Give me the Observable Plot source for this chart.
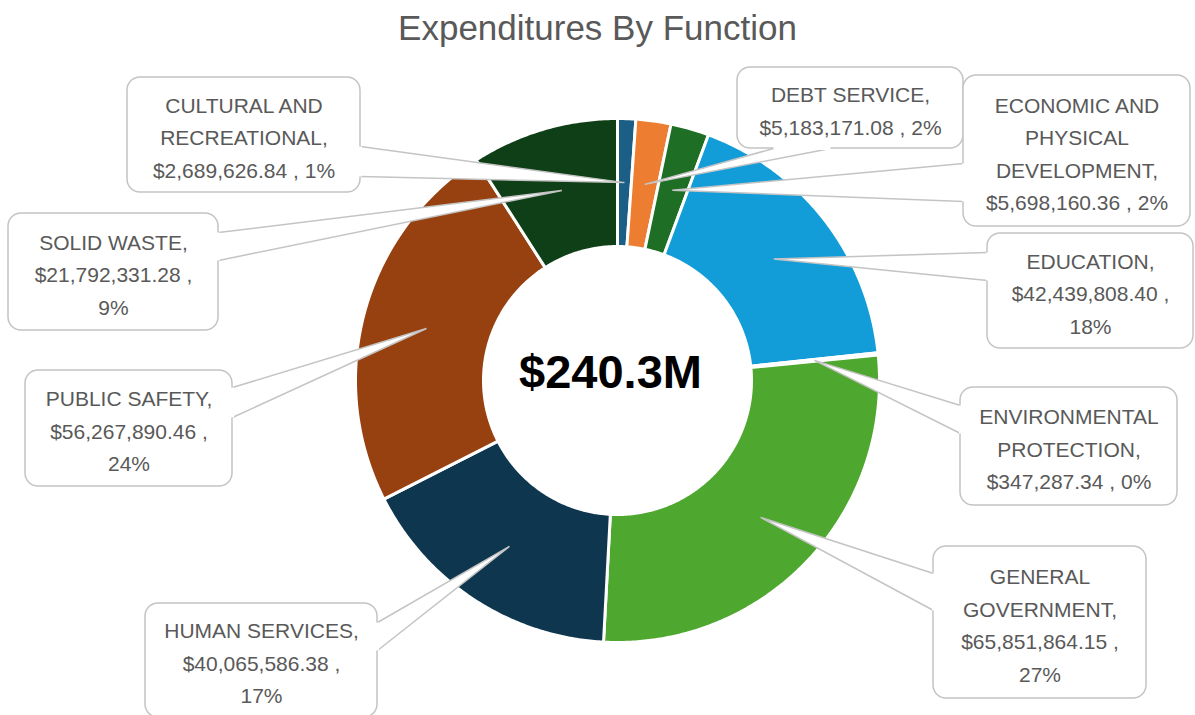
<!DOCTYPE html>
<html><head><meta charset="utf-8">
<script src="https://cdn.jsdelivr.net/npm/d3@7"></script>
<script src="https://cdn.jsdelivr.net/npm/@observablehq/plot@0.6"></script>
<style>
html,body{margin:0;padding:0;background:#fff;overflow:hidden;}
#title{height:56px;line-height:56px;text-align:center;font-family:"Liberation Sans",Arial,sans-serif;font-size:35px;color:#595959;white-space:nowrap;}
#chart svg{display:block;}
</style></head><body>
<div id="title">Expenditures By Function</div>
<div id="chart"></div>
<script>
// ---- data ----
const categories = [
  "CULTURAL AND RECREATIONAL",
  "DEBT SERVICE",
  "ECONOMIC AND PHYSICAL DEVELOPMENT",
  "EDUCATION",
  "ENVIRONMENTAL PROTECTION",
  "GENERAL GOVERNMENT",
  "HUMAN SERVICES",
  "PUBLIC SAFETY",
  "SOLID WASTE"
];
const amounts = [
  2689626.84,
  5183171.08,
  5698160.36,
  42439808.40,
  347287.34,
  65851864.15,
  40065586.38,
  56267890.46,
  21792331.28
];
const colors = ["#1b5e86", "#ed7d31", "#1e6e25", "#139dd8", "#9a9a9a", "#4ea72e", "#0e374f", "#974111", "#0f3f17"];

// ---- layout (page pixel coordinates) ----
const pie = {cx: 617, cy: 380, outer: 262, inner: 134};
const callouts = [
  {box: [127, 77, 360, 192], side: "right", base: [146, 176], lines: [2, 1], split: false},
  {box: [737, 67, 963, 148], side: "bottom", base: [773, 830], lines: [2], split: false},
  {box: [963, 75, 1190, 226], side: "left", base: [163, 201], lines: [2, 1, 1], split: false},
  {box: [987, 233, 1193, 348], side: "left", base: [252, 280], lines: [1], split: true},
  {box: [960, 387, 1177, 505], side: "left", base: [405, 433], lines: [1, 1], split: false},
  {box: [933, 546, 1146, 698], side: "left", base: [573, 610], lines: [1, 1], split: true},
  {box: [145, 603, 377, 717], side: "right", base: [622, 650], lines: [2], split: true},
  {box: [25, 370, 232, 486], side: "right", base: [387, 417], lines: [2], split: true},
  {box: [8, 213, 218, 330], side: "right", base: [232, 260], lines: [2], split: true}
];
const labelColor = "#595959";
const borderColor = "#c4c4c4";
const font = "'Liberation Sans', Arial, sans-serif";

// ---- derived ----
const total = d3.sum(amounts);
// percentages rounded with largest remainder so they sum to 100 (as the spreadsheet does)
function roundedPercents(vals) {
  const raw = vals.map(v => v / d3.sum(vals) * 100);
  const fl = raw.map(Math.floor);
  let left = 100 - d3.sum(fl);
  const order = d3.range(raw.length).sort((a, b) => (raw[b] - fl[b]) - (raw[a] - fl[a]));
  for (let i = 0; i < left; i++) fl[order[i]] += 1;
  return fl;
}
const pcts = roundedPercents(amounts);
const money = d3.format("$,.2f");

const arcs = d3.pie().sort(null).value(d => d)(amounts);
const pt = (a, r) => ({x: pie.cx + r * Math.sin(a), y: pie.cy - r * Math.cos(a)});

const slicePts = [];
arcs.forEach((a, i) => {
  const n = Math.max(2, Math.ceil((a.endAngle - a.startAngle) / (Math.PI / 360)));
  for (let k = 0; k <= n; k++) {
    const t = a.startAngle + (a.endAngle - a.startAngle) * k / n;
    slicePts.push({name: categories[i], ...pt(t, pie.outer)});
  }
  for (let k = n; k >= 0; k--) {
    const t = a.startAngle + (a.endAngle - a.startAngle) * k / n;
    slicePts.push({name: categories[i], ...pt(t, pie.inner)});
  }
});

function labelText(i) {
  const words = categories[i].split(" ");
  const out = [];
  let w = 0;
  callouts[i].lines.forEach(c => { out.push(words.slice(w, w + c).join(" ")); w += c; });
  out[out.length - 1] += ",";
  out.push(money(amounts[i]) + " ," + (callouts[i].split ? "\n" : " ") + pcts[i] + "%");
  return out.join("\n");
}

const wedgePts = [];
const patches = [];
const boxes = [];
callouts.forEach((c, i) => {
  const a = arcs[i];
  const mid = (a.startAngle + a.endAngle) / 2;
  const tip = pt(mid, (pie.outer + pie.inner) / 2);
  const [x1, y1, x2, y2] = c.box;
  let b0, b1;
  if (c.side === "right") { b0 = {x: x2, y: c.base[0]}; b1 = {x: x2, y: c.base[1]}; }
  else if (c.side === "left") { b0 = {x: x1, y: c.base[0]}; b1 = {x: x1, y: c.base[1]}; }
  else { b0 = {x: c.base[0], y: y2}; b1 = {x: c.base[1], y: y2}; }
  wedgePts.push({id: i, ...b0}, {id: i, ...tip}, {id: i, ...b1});
  patches.push({x1: b0.x, y1: b0.y, x2: b1.x, y2: b1.y});
  boxes.push({x1, y1, x2, y2, cx: (x1 + x2) / 2, cy: (y1 + y2) / 2, text: labelText(i)});
});

const centerLabel = [{x: pie.cx - 7, y: pie.cy - 8, text: d3.format("$.1f")(total / 1e6) + "M"}];

const chart = Plot.plot({
  width: 1195,
  height: 659,
  margin: 0,
  x: {domain: [0, 1195], range: [0, 1195], axis: null},
  y: {domain: [56, 715], range: [0, 659], axis: null},
  color: {domain: categories, range: colors},
  style: {fontFamily: font, background: "white", overflow: "hidden"},
  marks: [
    Plot.line(slicePts, {x: "x", y: "y", z: "name", fill: "name", stroke: "white", strokeWidth: 3, curve: "linear-closed"}),
    Plot.line(wedgePts, {x: "x", y: "y", z: "id", fill: "white", stroke: borderColor, strokeWidth: 1.5, curve: "linear", strokeLinejoin: "miter"}),
    Plot.rect(boxes, {x1: "x1", y1: "y1", x2: "x2", y2: "y2", rx: 13, fill: "white", stroke: borderColor, strokeWidth: 1.5}),
    Plot.link(patches, {x1: "x1", y1: "y1", x2: "x2", y2: "y2", stroke: "white", strokeWidth: 3, strokeLinecap: "butt"}),
    Plot.text(boxes, {x: "cx", y: "cy", text: "text", fontSize: 21, lineHeight: 1.55, fill: labelColor, textAnchor: "middle", lineAnchor: "middle"}),
    Plot.text(centerLabel, {x: "x", y: "y", text: "text", fontSize: 47, fontWeight: "bold", fill: "black", textAnchor: "middle", lineAnchor: "middle"})
  ]
});
document.getElementById("chart").appendChild(chart);
</script>
</body></html>
